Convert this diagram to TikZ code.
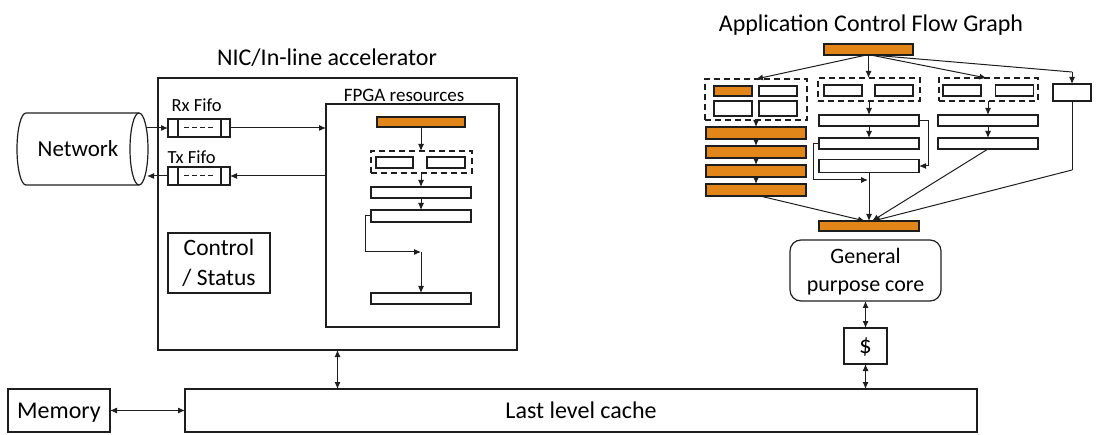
\documentclass[tikz,border=0pt]{standalone}
\usepackage{fontspec}
\setmainfont{Carlito}
\usetikzlibrary{arrows.meta}
\definecolor{ora}{RGB}{227,134,25}
\definecolor{ink}{RGB}{30,30,30}
\begin{document}
\begin{tikzpicture}[x=1pt,y=-1pt,
  ln/.style={draw=ink,line width=1.2pt},
  bx/.style={ln,rectangle,inner sep=0pt,outer sep=0pt},
  wbox/.style={bx,fill=white},
  obox/.style={bx,fill=ora},
  dbox/.style={bx,dash pattern=on 6pt off 4pt},
  arr/.style={draw=ink,line width=1pt,-{Latex[length=7pt,width=6pt]}},
  biarr/.style={draw=ink,line width=1pt,{Latex[length=7pt,width=6pt]}-{Latex[length=7pt,width=6pt]}},
  big/.style={font=\fontsize{24}{28}\selectfont,text height=20pt,text depth=5pt},
  ttl/.style={font=\fontsize{24}{28}\selectfont},
  sml/.style={font=\fontsize{18.5}{20}\selectfont},
  sz/.style 2 args={minimum width=#1pt,minimum height=#2pt}
]
\useasboundingbox (0,0) rectangle (1118,435);

% ---------- Network cylinder ----------
\draw[ln] (139,113) -- (26,113) arc[start angle=90,end angle=270,x radius=9pt,y radius=36pt] -- (139,185);
\draw[ln] (139,149) ellipse[x radius=9pt,y radius=36pt];
\node[font=\fontsize{23}{28}\selectfont,text height=21pt,text depth=5pt] (net) at (78,149) {Network};
\coordinate (netR) at (147,149);

% ---------- NIC ----------
\node[bx,sz={359}{272}] (nic) at (337.5,214) {};
\node[ttl,anchor=base] (nict) at (327,66) {NIC/In-line accelerator};

% FIFOs
\node[wbox,sz={62}{18}] (rx) at (199,128) {};
\node[wbox,sz={62}{18}] (tx) at (199,176) {};
\foreach \f in {rx,tx}{
  \draw[ln] ([xshift=10pt]\f.north west) -- ([xshift=10pt]\f.south west);
  \draw[ln] ([xshift=-9pt]\f.north east) -- ([xshift=-9pt]\f.south east);
  \draw[draw=ink,line width=1pt,dash pattern=on 5pt off 3pt] ([xshift=-15pt]\f.center) -- ([xshift=16pt]\f.center);
}
\node[sml,anchor=west] (rxl) at (168,105) {Rx Fifo};
\node[sml,anchor=west] (txl) at (164,157) {Tx Fifo};

% FPGA
\node[bx,sz={173}{223}] (fpga) at (412.5,215.5) {};
\node[font=\fontsize{19}{20}\selectfont,anchor=base] (fpgal) at (404,102) {FPGA resources};
\node[obox,sz={88}{10}] (f0) at (421,122) {};
\node[dbox,sz={101}{22}] (fg) at (421.5,162) {};
\node[wbox,sz={37}{11}] (f1a) at (394.5,162.5) {};
\node[wbox,sz={38}{11}] (f1b) at (446,162.5) {};
\node[wbox,sz={100}{11}] (f2) at (421,192.5) {};
\node[wbox,sz={100}{12}] (f3) at (421,216) {};
\node[wbox,sz={100}{11}] (f4) at (421,298.5) {};
\coordinate (loopc) at (421,252);
\draw[arr] (f0.south) -- (fg.north -| f0.south);
\draw[arr] (fg.south -| f2.north) -- (f2.north);
\draw[arr] (f2.south) -- (f3.north);
\draw[arr] (f3.west) -- ++(-6,0) |- (loopc);
\draw[arr] (loopc) -- (f4.north);

% network arrows
\draw[arr] (netR |- rx) -- (rx.west);
\draw[arr] (rx.east) -- (rx.east -| fpga.west);
\draw[arr] (tx.east -| fpga.west) -- (tx.east);
\draw[arr] (tx.west) -- (netR |- tx);

% Control / Status
\node[bx,sz={102}{60},align=center,font=\fontsize{23.5}{30}\selectfont] (ctl) at (219,263) {Control\\/ Status};

% ---------- Memory / LLC ----------
\node[bx,sz={102}{43},big] (mem) at (59,410.5) {Memory};
\node[bx,sz={792}{43},big] (llc) at (581,410.5) {Last level cache};
\draw[biarr] (mem.east) -- (llc.west);
\draw[biarr] (nic.south) -- (nic.south |- llc.north);

% ---------- Application CFG ----------
\node[ttl,anchor=base] (cfgt) at (871,32) {Application Control Flow Graph};
\node[obox,sz={89}{11}] (t0) at (868.5,49.5) {};

\node[dbox,sz={102}{41}] (g1) at (756,99.5) {};
\node[obox,sz={38}{10}] (g1a) at (733,91) {};
\node[wbox,sz={38}{10}] (g1b) at (778,91) {};
\node[wbox,sz={38}{15}] (g1c) at (733,108.5) {};
\node[wbox,sz={38}{15}] (g1d) at (778,108.5) {};

\node[dbox,sz={102}{23}] (g2) at (869,89.5) {};
\node[wbox,sz={38}{11}] (g2a) at (843,90.5) {};
\node[wbox,sz={38}{11}] (g2b) at (894,90.5) {};

\node[dbox,sz={99}{23}] (g3) at (988.5,89.5) {};
\node[wbox,sz={38}{11}] (g3a) at (962,90.5) {};
\node[wbox,sz={38}{11}] (g3b) at (1014.5,90.5) {};

\node[wbox,sz={38}{17}] (s4) at (1072,92.5) {};
\coordinate (s4t) at (1072,72);

\draw[arr] ([xshift=-2pt]t0.south) -- (g1.north);
\draw[arr] (t0.south) -- (t0.south |- g2.north);
\draw[arr] ([xshift=2pt]t0.south) -- ([xshift=-2pt]g3.north);
\draw[ln,line width=1pt] ([xshift=3pt]t0.south) -- (s4t);
\draw[arr] (s4t) -- (s4.north);

% column 1
\node[obox,sz={100}{12}] (o1) at (756,133) {};
\node[obox,sz={100}{12}] (o2) at (756,152) {};
\node[obox,sz={100}{12}] (o3) at (756,171) {};
\node[obox,sz={100}{12}] (o4) at (756,190) {};
\draw[arr] (g1.south) -- (o1.north);
\draw[arr] (o1.south) -- (o2.north);
\draw[arr] (o2.south) -- (o3.north);
\draw[arr] (o3.south) -- (o4.north);

% column 2
\node[wbox,sz={100}{11}] (c2a) at (869,120.5) {};
\node[wbox,sz={100}{11}] (c2b) at (869,143.5) {};
\node[wbox,sz={100}{13}] (c2c) at (869,166) {};
\draw[arr] (g2.south) -- (c2a.north);
\draw[arr] (c2a.south) -- (c2b.north);
\draw[arr] (c2a.east) -- ++(9,0) |- (c2c.east);

% column 3
\node[wbox,sz={100}{11}] (c3a) at (988,120.5) {};
\node[wbox,sz={100}{11}] (c3b) at (988,143.5) {};
\draw[arr] (g3.south -| c3a.north) -- (c3a.north);
\draw[arr] (c3a.south) -- (c3b.north);

% bottom bar
\node[obox,sz={100}{10}] (tb) at (869,226) {};
\coordinate (j2) at (868,180);
\coordinate (s4b) at (1072,170);
\draw[arr] (c2b.west) -- ++(-6,0) |- (j2);
\draw[arr] (c2c.south) -- (c2c.south |- tb.north);
\draw[arr] ([xshift=4pt]o4.south) -- ([xshift=-4pt]tb.north);
\draw[arr] (c3b.south) -- ([xshift=3pt]tb.north);
\draw[ln,line width=1pt] (s4.south) -- (s4b);
\draw[arr] (s4b) -- ([xshift=4pt]tb.north);

% General purpose core and cache
\node[bx,rounded corners=11pt,sz={151}{61},align=center,font=\fontsize{22}{28}\selectfont] (gpc) at (865.5,270.5) {\rule{0pt}{18pt}General\\purpose core};
\node[bx,sz={43}{36},font=\fontsize{25}{28}\selectfont,text height=20pt,text depth=5pt] (cache) at (865.5,346) {\$};
\draw[biarr] (gpc.south) -- (cache.north);
\draw[biarr] (cache.south) -- (cache.south |- llc.north);
\end{tikzpicture}
\end{document}
